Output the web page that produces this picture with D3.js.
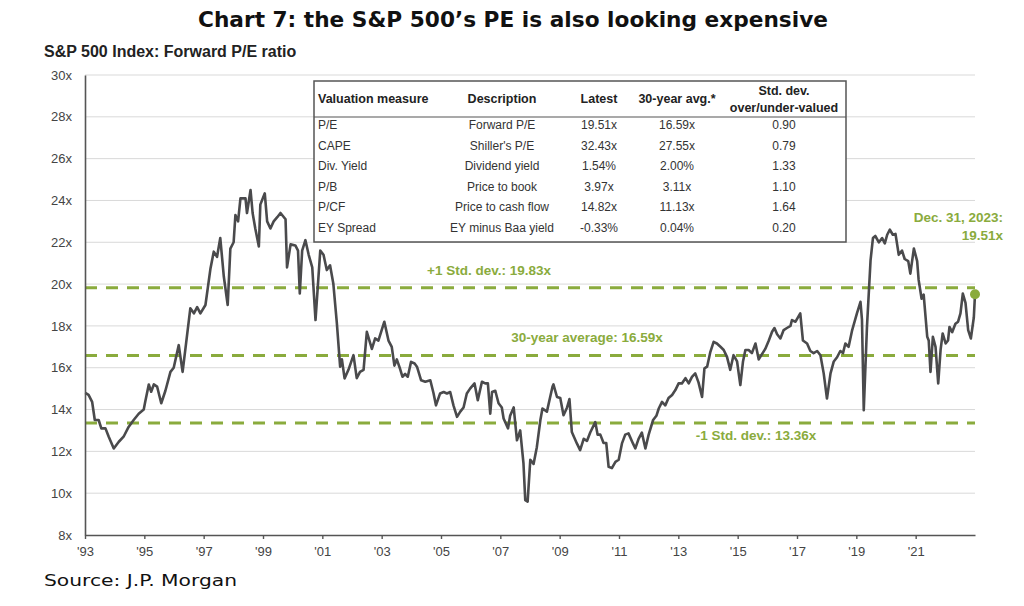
<!DOCTYPE html>
<html><head><meta charset="utf-8">
<script src="https://cdn.jsdelivr.net/npm/d3@7"></script>
<style>body{margin:0;background:#fff} svg{display:block}</style>
</head><body><svg id="c" width="1024" height="606"></svg>
<script>
// Axis units: chart's year axis (tick '93 ... '21), data ends Dec. 31, 2023 at the right edge
const years = [
1993.01,1993.12,1993.24,1993.33,1993.46,1993.55,1993.69,1993.80,1993.97,1994.14,1994.30,1994.47,1994.64,1994.81,1994.98,
1995.03,1995.15,1995.23,1995.32,1995.43,1995.57,1995.71,1995.88,1995.99,1996.16,1996.29,1996.41,1996.55,1996.67,1996.78,1996.89,
1997.06,1997.23,1997.34,1997.45,1997.56,1997.68,1997.81,1997.90,1998.01,1998.07,1998.16,1998.24,1998.41,1998.46,1998.58,1998.65,
1998.74,1998.86,1998.91,1999.06,1999.14,1999.25,1999.36,1999.48,1999.59,1999.76,1999.81,1999.93,2000.09,2000.18,2000.24,2000.32,
2000.43,2000.54,2000.66,2000.77,2000.93,2001.04,2001.15,2001.26,2001.37,2001.49,2001.60,2001.66,2001.75,2001.88,2002.05,2002.16,
2002.27,2002.39,2002.50,2002.67,2002.78,2002.89,2003.09,2003.23,2003.34,2003.43,2003.51,2003.62,2003.70,2003.79,2003.88,2003.99,
2004.11,2004.19,2004.33,2004.47,2004.64,2004.75,2004.83,2004.97,2005.09,2005.20,2005.31,2005.42,2005.54,2005.65,2005.76,2005.87,
2005.98,2006.13,2006.24,2006.38,2006.49,2006.58,2006.66,2006.72,2006.83,2006.94,2007.05,2007.11,2007.26,2007.33,2007.45,2007.56,
2007.67,2007.78,2007.84,2007.92,2008.01,2008.12,2008.23,2008.35,2008.42,2008.57,2008.68,2008.76,2008.79,2008.91,2009.02,2009.13,
2009.25,2009.33,2009.41,2009.58,2009.69,2009.81,2009.92,2010.03,2010.20,2010.28,2010.37,2010.48,2010.57,2010.65,2010.76,2010.88,
2010.99,2011.10,2011.21,2011.32,2011.47,2011.55,2011.66,2011.77,2011.89,2012.00,2012.15,2012.26,2012.34,2012.45,2012.56,2012.67,
2012.79,2012.90,2013.01,2013.12,2013.24,2013.35,2013.46,2013.57,2013.68,2013.80,2013.88,2013.97,2014.08,2014.19,2014.30,2014.42,
2014.53,2014.64,2014.75,2014.86,2014.98,2015.09,2015.18,2015.26,2015.37,2015.48,2015.60,2015.71,2015.82,2015.93,2016.05,2016.16,
2016.24,2016.33,2016.44,2016.55,2016.66,2016.78,2016.83,2016.95,2017.11,2017.20,2017.34,2017.45,2017.56,2017.68,2017.79,2017.90,
2018.01,2018.13,2018.24,2018.35,2018.46,2018.55,2018.63,2018.74,2018.86,2019.02,2019.14,2019.19,2019.25,2019.36,2019.48,2019.56,
2019.64,2019.76,2019.87,2019.96,2020.04,2020.13,2020.23,2020.32,2020.43,2020.54,2020.63,2020.75,2020.82,2020.94,2021.05,2021.10,
2021.20,2021.27,2021.39,2021.44,2021.50,2021.58,2021.67,2021.76,2021.84,2021.91,2022.01,2022.09,2022.14,2022.23,2022.34,2022.43,
2022.51,2022.59,2022.68,2022.77,2022.86,2022.96,2023.00];
const peValues = [
14.8,14.7,14.37,13.5,13.5,13.1,13.1,12.7,12.14,12.46,12.7,13.17,13.5,13.8,14.0,
14.37,15.2,14.85,15.2,15.1,14.3,14.9,15.8,16.0,17.08,15.8,17.2,18.84,18.6,18.9,18.6,
19.0,20.75,21.55,21.3,22.2,20.35,19.0,21.7,22.0,23.3,23.0,24.1,24.1,23.4,24.5,23.4,
22.66,21.8,23.8,24.34,23.0,22.66,23.0,23.2,23.4,23.1,20.8,21.9,21.85,21.6,19.55,21.6,
22.1,21.4,20.8,18.28,21.6,21.4,20.67,20.9,20.03,18.12,16.05,16.4,15.49,15.9,16.6,15.5,
15.8,15.9,17.72,16.9,17.4,17.3,18.2,17.3,17.0,16.1,16.4,15.95,15.57,15.7,15.57,16.28,
16.2,16.05,15.4,15.33,15.4,14.77,14.2,14.77,14.84,14.77,14.84,14.2,13.65,13.9,14.1,14.77,
15.0,15.25,14.45,15.33,15.25,15.25,13.8,14.84,14.9,14.3,14.1,13.57,13.1,13.7,14.1,12.53,
13.0,11.42,9.67,9.6,11.6,11.4,12.2,13.5,14.05,13.9,14.6,15.1,15.2,14.6,14.55,13.73,
14.1,14.5,12.93,12.38,12.06,12.6,12.5,12.9,13.4,12.8,12.8,12.4,12.4,11.26,11.2,11.5,
11.6,12.38,12.8,12.86,12.38,12.14,12.6,12.9,12.14,12.8,13.5,13.7,14.05,14.37,14.2,14.55,
14.7,14.93,15.25,15.25,15.5,15.25,15.56,15.73,15.3,14.6,15.97,16.05,16.76,17.24,17.16,17.0,
16.85,16.52,15.9,16.6,16.3,15.17,16.3,16.85,16.85,16.7,17.16,16.4,16.65,16.9,17.3,17.72,
17.9,17.6,17.4,17.8,17.9,18.0,18.28,18.2,18.6,17.3,17.16,16.8,16.7,16.8,16.6,15.73,
14.53,15.73,16.3,16.5,16.8,16.7,17.16,17.0,17.8,18.6,19.15,18.3,13.97,18.0,21.15,22.2,
22.3,22.0,22.2,21.95,22.36,22.6,22.36,22.4,21.4,21.6,21.2,21.1,20.5,21.7,21.1,20.2,
19.3,19.5,17.48,17.3,15.8,17.48,17.0,15.25,16.85,17.64,17.16,17.3,17.95,17.7,18.1,18.2,
18.6,19.55,19.1,17.8,17.4,18.4,19.51];

const yTicks = [8,10,12,14,16,18,20,22,24,26,28,30];
const xTickYears = [1993,1995,1997,1999,2001,2003,2005,2007,2009,2011,2013,2015,2017,2019,2021];
const refLevels = [19.83, 16.59, 13.36];
const refLabels = ["+1 Std. dev.: 19.83x", "30-year average: 16.59x", "-1 Std. dev.: 13.36x"];
const latestLabel = ["Dec. 31, 2023:", "19.51x"];

const tableMeasures = ["P/E","CAPE","Div. Yield","P/B","P/CF","EY Spread"];
const tableDescriptions = ["Forward P/E","Shiller's P/E","Dividend yield","Price to book","Price to cash flow","EY minus Baa yield"];
const tableLatest = ["19.51x","32.43x","1.54%","3.97x","14.82x","-0.33%"];
const tableAvg = ["16.59x","27.55x","2.00%","3.11x","11.13x","0.04%"];
const tableStd = ["0.90","0.79","1.33","1.10","1.64","0.20"];

const svg = d3.select("#c");
const green = "#8aab3d";
const x = d3.scaleLinear().domain([1993, 2023]).range([85, 975]);
const y = d3.scaleLinear().domain([8, 30]).range([535, 75]);

// title
svg.append("text").attr("x", 513).attr("y", 27).attr("text-anchor","middle")
  .attr("font-family","DejaVu Sans").attr("font-weight","bold").attr("font-size",22)
  .attr("textLength",630).attr("lengthAdjust","spacingAndGlyphs").attr("fill","#111")
  .text("Chart 7: the S&P 500\u2019s PE is also looking expensive");
svg.append("text").attr("x", 44).attr("y", 57)
  .attr("font-family","Liberation Sans, Arial").attr("font-weight","bold").attr("font-size",16)
  .attr("fill","#222").text("S&P 500 Index: Forward P/E ratio");
svg.append("text").attr("x", 44).attr("y", 586)
  .attr("font-family","DejaVu Sans").attr("font-size",16)
  .attr("textLength",193).attr("lengthAdjust","spacingAndGlyphs").attr("fill","#111")
  .text("Source: J.P. Morgan");

// gridlines
svg.append("g").selectAll("line").data(yTicks.filter(d => d > 8)).join("line")
  .attr("x1", x(1993)).attr("x2", x(2023)).attr("y1", d => y(d)).attr("y2", d => y(d))
  .attr("stroke","#d9d9d9").attr("stroke-width",1);

// reference dashed lines
svg.append("g").selectAll("line").data(refLevels).join("line")
  .attr("x1", x(1993)).attr("x2", x(2023)).attr("y1", d => y(d)).attr("y2", d => y(d))
  .attr("stroke", green).attr("stroke-width", 3).attr("stroke-dasharray","12,9");

// table
const tb = svg.append("g");
tb.append("rect").attr("x",314).attr("y",81).attr("width",532).attr("height",161)
  .attr("fill","#fff").attr("stroke","#555").attr("stroke-width",1.5);
tb.append("line").attr("x1",314).attr("x2",846).attr("y1",117).attr("y2",117)
  .attr("stroke","#555").attr("stroke-width",1.2);
const colX = [318, 502, 599, 677, 784];
const hdr = tb.append("g").attr("font-family","Liberation Sans, Arial").attr("font-weight","bold")
  .attr("font-size",12.5).attr("fill","#222");
hdr.append("text").attr("x",colX[0]).attr("y",103).text("Valuation measure");
hdr.append("text").attr("x",colX[1]).attr("y",103).attr("text-anchor","middle").text("Description");
hdr.append("text").attr("x",colX[2]).attr("y",103).attr("text-anchor","middle").text("Latest");
hdr.append("text").attr("x",colX[3]).attr("y",103).attr("text-anchor","middle").text("30-year avg.*");
hdr.append("text").attr("x",colX[4]).attr("y",95).attr("text-anchor","middle").text("Std. dev.");
hdr.append("text").attr("x",colX[4]).attr("y",112).attr("text-anchor","middle").text("over/under-valued");
const body = tb.append("g").attr("font-family","Liberation Sans, Arial").attr("font-size",12).attr("fill","#333");
const cols = [tableMeasures, tableDescriptions, tableLatest, tableAvg, tableStd];
cols.forEach((col, ci) => {
  body.append("g").selectAll("text").data(col).join("text")
    .attr("x", colX[ci]).attr("y", (d,i) => 129 + i*20.6)
    .attr("text-anchor", ci === 0 ? "start" : "middle").text(d => d);
});

// line
const pts = years.map((t,i) => [t, peValues[i]]);
svg.append("path").datum(pts)
  .attr("d", d3.line().x(d => x(d[0])).y(d => y(d[1])))
  .attr("fill","none").attr("stroke","#4a4a4c").attr("stroke-width",2.6).attr("stroke-linejoin","round");

// axes
const ya = svg.append("g").attr("transform",`translate(${x(1993)},0)`)
  .call(d3.axisLeft(y).tickValues(yTicks).tickFormat(d => d + "x").tickSize(0).tickSizeOuter(0).tickPadding(13));
ya.select(".domain").attr("stroke","#555").attr("stroke-width",1.6);
ya.selectAll("text").attr("font-family","Liberation Sans, Arial").attr("font-size",13).attr("fill","#444");
const xa = svg.append("g").attr("transform",`translate(0,${y(8)})`)
  .call(d3.axisBottom(x).tickValues(xTickYears).tickFormat(d => "'" + String(d).slice(2)).tickSize(4).tickSizeOuter(0).tickPadding(8));
xa.select(".domain").attr("stroke","#555").attr("stroke-width",1.6);
xa.selectAll(".tick line").attr("stroke","#555").attr("stroke-width",1.4);
xa.selectAll("text").attr("font-family","Liberation Sans, Arial").attr("font-size",13).attr("fill","#444");

// labels
const lbl = svg.append("g").attr("font-family","Liberation Sans, Arial").attr("font-weight","bold")
  .attr("font-size",13.5).attr("fill",green);
const lblPos = [[489, 275], [587, 342], [756, 440]];
lbl.selectAll("text.ref").data(refLabels).join("text").attr("class","ref")
  .attr("x",(d,i) => lblPos[i][0]).attr("y",(d,i) => lblPos[i][1]).attr("text-anchor","middle").text(d => d);
lbl.append("text").attr("x",1003).attr("y",222).attr("text-anchor","end").text(latestLabel[0]);
lbl.append("text").attr("x",1003).attr("y",240).attr("text-anchor","end").text(latestLabel[1]);

// end dot
svg.append("circle").attr("cx", x(years[years.length-1])).attr("cy", y(peValues[peValues.length-1]))
  .attr("r", 5).attr("fill", green);
</script></body></html>
